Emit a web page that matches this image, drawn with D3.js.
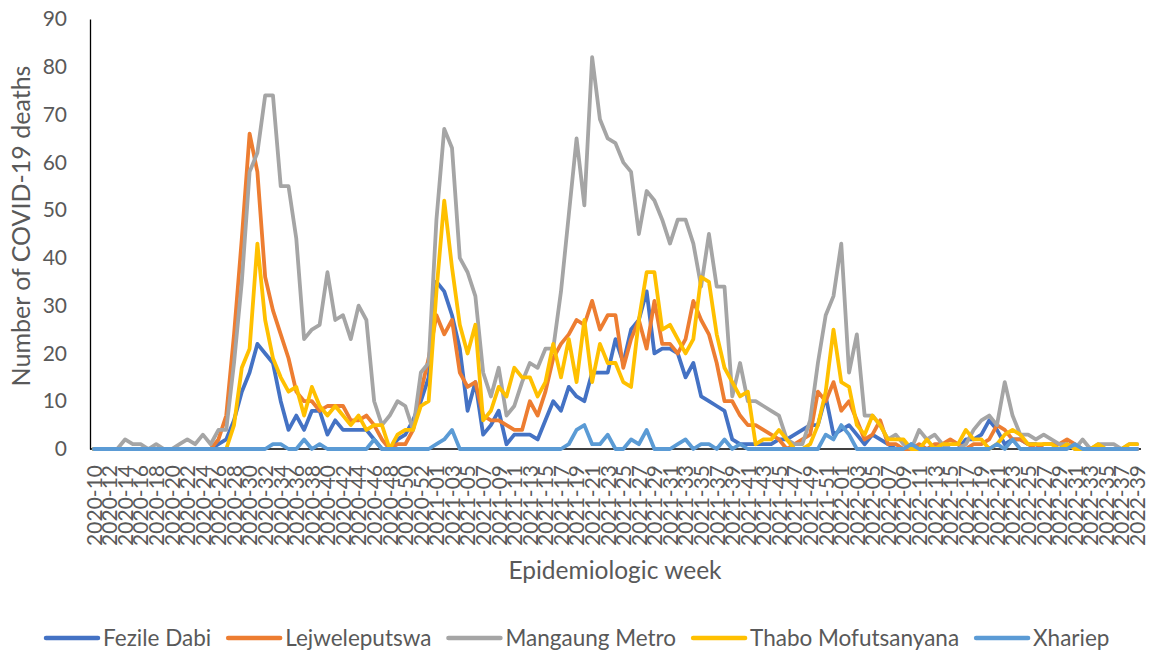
<!DOCTYPE html>
<html>
<head>
<meta charset="utf-8">
<script src="https://cdn.jsdelivr.net/npm/d3@7"></script>
<style>
  body { margin: 0; background: #fff; }
  svg { display: block; font-family: Lato, "Open Sans", sans-serif; }
</style>
</head>
<body>
<div id="chart"></div>
<script>
// epidemiologic weeks: [year, first week, last week]
const weekSpans = [[2020, 10, 53], [2021, 1, 52], [2022, 1, 39]];
const weeks = [];
weekSpans.forEach(([yr, a, b]) => {
  for (let w = a; w <= b; w++) weeks.push(`${yr}-${String(w).padStart(2, "0")}`);
});

const districts = ["Fezile Dabi", "Lejweleputswa", "Mangaung Metro", "Thabo Mofutsanyana", "Xhariep"];
const colors = ["#4472C4", "#ED7D31", "#A5A5A5", "#FFC000", "#5B9BD5"];

const fezileDabi = [
  0,0,0,0,0,0,0,0,0,0, 0,0,0,0,0,0,1,2,6,12,
  16,22,20,18,10,4,7,4,8,8, 3,6,4,4,4,4,2,0,0,2,
  3,6,10,15,35,33,28,21,8,14, 3,5,8,1,3,3,3,2,6,10,
  8,13,11,10,16,16,16,23,18,25, 27,33,20,21,21,20,15,18,11,10,
  9,8,2,1,1,1,1,1,2,2, 3,4,5,5,11,3,4,5,3,1,
  3,2,1,0,0,1,0,0,0,1, 0,0,2,2,3,6,4,1,2,2,
  1,1,0,0,0,1,0,0,0,0, 0,0,0,0,0
];
const lejweleputswa = [
  0,0,0,0,0,0,0,0,0,0, 0,0,0,0,0,0,2,7,24,44,
  66,58,36,29,24,19,12,10,10,8, 9,9,9,6,6,7,5,2,0,1,
  1,4,12,19,28,24,27,16,13,14, 7,6,6,5,4,4,10,7,12,19,
  22,24,27,26,31,25,28,28,17,23, 27,21,31,22,22,20,23,31,27,24,
  18,10,10,7,5,5,4,3,2,0, 1,2,3,12,10,14,8,10,6,2,
  3,6,1,1,0,0,1,0,1,1, 2,1,0,1,1,2,5,4,2,2,
  1,0,1,1,1,2,1,0,0,0, 0,0,0,0,0
];
const mangaungMetro = [
  0,0,0,0,2,1,1,0,1,0, 0,1,2,1,3,1,4,4,18,35,
  58,62,74,74,55,55,44,23,25,26, 37,27,28,23,30,27,10,5,7,10,
  9,4,16,18,48,67,63,40,37,32, 16,11,17,7,9,14,18,17,21,21,
  33,49,65,51,82,69,65,64,60,58, 45,54,52,48,43,48,48,43,34,45,
  34,34,11,18,10,10,9,8,7,2, 1,1,6,18,28,32,43,16,24,7,
  7,5,2,3,1,0,4,2,3,1, 0,0,1,4,6,7,5,14,7,3,
  3,2,3,2,1,1,0,2,0,1, 1,1,0,1,1
];
const thaboMofutsanyana = [
  0,0,0,0,0,0,0,0,0,0, 0,0,0,0,0,0,0,0,5,17,
  21,43,27,19,15,12,13,7,13,9, 7,9,7,5,7,4,5,5,0,3,
  4,4,9,10,33,52,38,26,20,26, 6,8,13,11,17,15,15,11,14,22,
  15,23,14,27,14,22,18,18,14,13, 27,37,37,25,26,23,20,23,36,35,
  24,17,14,11,12,1,2,2,4,2, 0,0,1,5,12,25,14,13,5,3,
  7,5,2,2,2,0,0,2,0,1, 1,1,4,2,2,0,1,3,4,3,
  1,1,1,1,0,1,0,0,0,1, 0,0,0,1,1
];
const xhariep = [
  0,0,0,0,0,0,0,0,0,0, 0,0,0,0,0,0,0,0,0,0,
  0,0,0,1,1,0,0,2,0,1, 0,0,0,0,0,0,2,0,0,0,
  0,0,0,0,1,2,4,0,0,0, 0,0,0,0,0,0,0,0,0,0,
  0,1,4,5,1,1,3,0,0,2, 1,4,0,0,0,1,2,0,1,1,
  0,2,0,1,0,0,0,0,0,0, 0,0,0,0,3,2,5,3,0,0,
  0,0,0,0,0,1,0,0,0,0, 0,0,0,0,0,0,1,0,2,0,
  0,0,0,0,0,0,1,0,0,0, 0,0,0,0,0
];
const seriesValues = [fezileDabi, lejweleputswa, mangaungMetro, thaboMofutsanyana, xhariep];

const yTicks = [0, 10, 20, 30, 40, 50, 60, 70, 80, 90];
const xTickLabels = weeks.filter((d, i) => i % 2 === 0);

const width = 1154, height = 655;
const plot = { left: 90, right: 1141, top: 19, bottom: 449 };

const svg = d3.select("#chart").append("svg")
  .attr("width", width)
  .attr("height", height);

const x = d3.scalePoint().domain(weeks).range([plot.left, plot.right]).padding(0.5);
const y = d3.scaleLinear().domain([0, 90]).range([plot.bottom, plot.top]);

// y axis
const yAxis = svg.append("g")
  .attr("transform", `translate(${plot.left},0)`)
  .call(d3.axisLeft(y).tickValues(yTicks).tickSize(0).tickSizeOuter(0).tickPadding(23));
yAxis.select(".domain").attr("stroke", "#000").attr("stroke-width", 1.3);
yAxis.selectAll("text")
  .attr("fill", "#595959")
  .style("font-size", "21px")
  .style("font-family", "Lato");

// x axis
const xAxis = svg.append("g")
  .attr("transform", `translate(0,${plot.bottom})`)
  .call(d3.axisBottom(x).tickValues(xTickLabels).tickSize(0).tickSizeOuter(0));
xAxis.select(".domain")
  .attr("d", `M${plot.left},0H${plot.right}`)
  .attr("stroke", "#000").attr("stroke-width", 1.3);
xAxis.selectAll("text")
  .attr("transform", "rotate(-90)")
  .attr("x", -16)
  .attr("y", 0)
  .attr("dy", "0.35em")
  .attr("fill", "#595959")
  .style("text-anchor", "end")
  .style("font-size", "21px")
  .style("font-family", "Lato");

// lines
const line = d3.line()
  .x((d, i) => x(weeks[i]))
  .y(d => y(d));

svg.append("g")
  .selectAll("path")
  .data(seriesValues)
  .enter()
  .append("path")
  .attr("d", line)
  .attr("fill", "none")
  .attr("stroke", (d, i) => colors[i])
  .attr("stroke-width", 3.8)
  .attr("stroke-linejoin", "round")
  .attr("stroke-linecap", "round");

// axis titles
svg.append("text")
  .attr("x", 615)
  .attr("y", 570)
  .attr("dy", "0.35em")
  .attr("text-anchor", "middle")
  .attr("fill", "#595959")
  .style("font-size", "24.5px")
  .text("Epidemiologic week");

svg.append("text")
  .attr("transform", "translate(21,226) rotate(-90)")
  .attr("dy", "0.35em")
  .attr("text-anchor", "middle")
  .attr("fill", "#595959")
  .style("font-size", "25px")
  .text("Number of COVID-19 deaths");

// legend
const legend = svg.append("g").attr("transform", "translate(44,638)");
let lx = 0;
districts.forEach((name, i) => {
  const g = legend.append("g").attr("transform", `translate(${lx},0)`);
  g.append("line")
    .attr("x1", 2).attr("x2", 54)
    .attr("stroke", colors[i])
    .attr("stroke-width", 4.5)
    .attr("stroke-linecap", "round");
  const t = g.append("text")
    .attr("x", 59)
    .attr("dy", "0.35em")
    .attr("fill", "#595959")
    .style("font-size", "22.5px")
    .text(name);
  lx += 59 + t.node().getComputedTextLength() + 15;
});
</script>
</body>
</html>
